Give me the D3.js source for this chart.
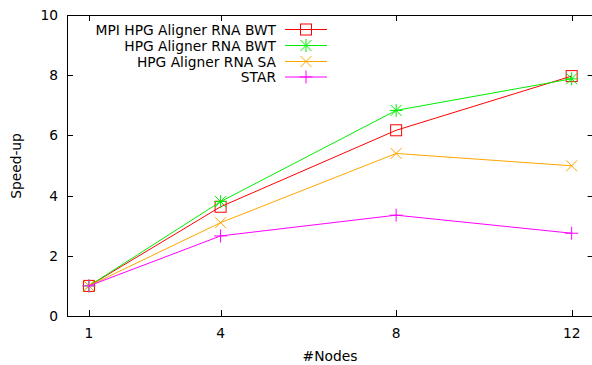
<!DOCTYPE html>
<html><head><meta charset="utf-8">
<script src="https://cdn.jsdelivr.net/npm/d3@7"></script>
<style>body{margin:0;background:#fff}svg{display:block}text{font-family:"DejaVu Sans",sans-serif;font-size:13.8px;fill:#000}</style>
</head><body><svg id="c" width="592" height="365"></svg>
<script>
const nodes = [1, 4, 8, 12];
const xTicks = [1, 4, 8, 12];
const yTicks = [0, 2, 4, 6, 8, 10];
const seriesNames = ["MPI HPG Aligner RNA BWT", "HPG Aligner RNA BWT", "HPG Aligner RNA SA", "STAR"];
const mpiBwt = [1, 3.63, 6.17, 7.97];
const hpgBwt = [1, 3.80, 6.83, 7.88];
const hpgSa = [1, 3.10, 5.40, 4.99];
const star = [1, 2.66, 3.35, 2.75];
const colors = ["#ff0000", "#00ee00", "#ffa500", "#ff00ff"];
const markers = ["square", "star", "cross", "plus"];

const svg = d3.select("#c");
const L = 67, T = 15, R = 593.6, B = 316;
const x = d3.scaleLinear().domain([0.5, 12.5]).range([L, R]);
const y = d3.scaleLinear().domain([0, 10]).range([B, T]);

const series = [mpiBwt, hpgBwt, hpgSa, star];

svg.append("rect").attr("x", L + 0.5).attr("y", T + 0.5).attr("width", R - L).attr("height", B - T)
  .attr("fill", "none").attr("stroke", "#000").attr("stroke-width", 1);

const tl = 6;
xTicks.forEach(v => {
  const px = Math.round(x(v)) + 0.5;
  svg.append("line").attr("x1", px).attr("x2", px).attr("y1", B).attr("y2", B - tl).attr("stroke", "#000");
  svg.append("line").attr("x1", px).attr("x2", px).attr("y1", T).attr("y2", T + tl).attr("stroke", "#000");
  svg.append("text").attr("x", x(v)).attr("y", B + 22).attr("text-anchor", "middle").text(v);
});
yTicks.forEach(v => {
  const py = Math.round(y(v)) + 0.5;
  svg.append("line").attr("x1", L).attr("x2", L + tl).attr("y1", py).attr("y2", py).attr("stroke", "#000");
  svg.append("line").attr("x1", R).attr("x2", R - tl).attr("y1", py).attr("y2", py).attr("stroke", "#000");
  svg.append("text").attr("x", L - 9).attr("y", y(v) + 5).attr("text-anchor", "end").text(v);
});

svg.append("text").attr("x", 330).attr("y", 361).attr("text-anchor", "middle").text("#Nodes");
svg.append("text").attr("transform", "translate(21,166) rotate(-90)").attr("text-anchor", "middle").text("Speed-up");

function marker(g, type, cx, cy, color) {
  const s = 5.5;
  if (type === "square") {
    g.append("rect").attr("x", cx - s).attr("y", cy - s).attr("width", 2 * s).attr("height", 2 * s)
      .attr("fill", "none").attr("stroke", color);
  } else {
    let segs = [];
    if (type === "plus" || type === "star") segs.push([cx - s - 1, cy, cx + s + 1, cy], [cx, cy - s - 1, cx, cy + s + 1]);
    if (type === "cross" || type === "star") segs.push([cx - s, cy - s, cx + s, cy + s], [cx - s, cy + s, cx + s, cy - s]);
    segs.forEach(d => g.append("line").attr("x1", d[0]).attr("y1", d[1]).attr("x2", d[2]).attr("y2", d[3]).attr("stroke", color));
  }
}

const line = d3.line().x((d, i) => x(nodes[i])).y(d => y(d));
series.forEach((vals, k) => {
  const g = svg.append("g");
  g.append("path").attr("d", line(vals)).attr("fill", "none").attr("stroke", colors[k]).attr("stroke-width", 1);
  vals.forEach((v, i) => marker(g, markers[k], x(nodes[i]), y(v), colors[k]));
});

const legY = [29.5, 45.5, 61.5, 77];
seriesNames.forEach((n, k) => {
  const g = svg.append("g");
  g.append("text").attr("x", 276).attr("y", legY[k] + 5).attr("text-anchor", "end").text(n);
  g.append("line").attr("x1", 285).attr("x2", 327).attr("y1", legY[k]).attr("y2", legY[k]).attr("stroke", colors[k]);
  marker(g, markers[k], 306, legY[k], colors[k]);
});
</script></body></html>
